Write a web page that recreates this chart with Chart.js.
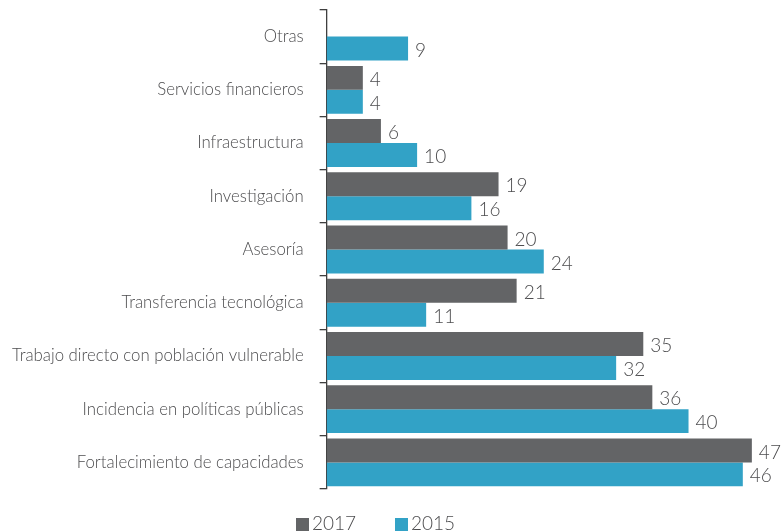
<!DOCTYPE html>
<html>
<head>
<meta charset="utf-8">
<script src="https://cdn.jsdelivr.net/npm/chart.js@4"></script>
<style>
  html, body { margin: 0; padding: 0; background: #fff; overflow: hidden; }
  #wrap { position: relative; width: 781px; height: 532px; }
  #legend { position: absolute; left: 296px; top: 512px; font: 300 19px Lato, sans-serif; color: #4d4d4f; white-space: nowrap; }
  #legend span.item { position: absolute; top: 0; line-height: 22px; }
  #legend i { display: inline-block; width: 13px; height: 13px; margin-right: 3px; vertical-align: -1px; }
</style>
</head>
<body>
<div id="wrap">
  <canvas id="chart" width="781" height="532"></canvas>
  <div id="legend"></div>
</div>
<script>
// Categorías (de arriba hacia abajo)
const categories = [
  'Otras',
  'Servicios financieros',
  'Infraestructura',
  'Investigación',
  'Asesoría',
  'Transferencia tecnológica',
  'Trabajo directo con población vulnerable',
  'Incidencia en políticas públicas',
  'Fortalecimiento de capacidades'
];

// Valores por año
const values2017 = [null, 4, 6, 19, 20, 21, 35, 36, 47];
const values2015 = [9, 4, 10, 16, 24, 11, 32, 40, 46];

const textColor = '#4d4d4f';

// Etiquetas de valor al final de cada barra
const valueLabels = {
  id: 'valueLabels',
  afterDatasetsDraw(chart) {
    const ctx = chart.ctx;
    ctx.save();
    ctx.fillStyle = textColor;
    ctx.font = '300 19px Lato, sans-serif';
    ctx.textAlign = 'left';
    ctx.textBaseline = 'middle';
    chart.data.datasets.forEach((ds, i) => {
      const meta = chart.getDatasetMeta(i);
      meta.data.forEach((bar, j) => {
        const v = ds.data[j];
        if (v === null || v === undefined) return;
        ctx.fillText(String(v), bar.x + 7, bar.y + 2);
      });
    });
    ctx.restore();
  }
};

const chart = new Chart(document.getElementById('chart').getContext('2d'), {
  type: 'bar',
  data: {
    labels: categories,
    datasets: [{
      label: '2017',
      data: values2017,
      backgroundColor: '#636466'
    }, {
      label: '2015',
      data: values2015,
      backgroundColor: '#32a2c6'
    }]
  },
  options: {
    indexAxis: 'y',
    responsive: false,
    animation: false,
    layout: { padding: { top: 10, right: 2, left: -4, bottom: 43 } },
    datasets: {
      bar: { categoryPercentage: 0.9, barPercentage: 1.0 }
    },
    scales: {
      x: {
        display: false,
        min: 0,
        max: 50
      },
      y: {
        afterFit(scale) {
          scale.paddingTop = 0;
          scale.paddingBottom = 0;
        },
        border: { display: true, color: '#3f3f3f', width: 1.3 },
        grid: {
          drawOnChartArea: false,
          drawTicks: true,
          tickLength: 7,
          color: '#3f3f3f',
          lineWidth: 1.3
        },
        ticks: {
          color: textColor,
          padding: 16,
          font: { family: 'Lato, sans-serif', size: 16.8, weight: '300' }
        }
      }
    },
    plugins: {
      legend: { display: false },
      tooltip: { enabled: false }
    }
  },
  plugins: [valueLabels]
});

// Leyenda
const legendEl = document.getElementById('legend');
const legendOffsets = [0, 99];
chart.data.datasets.forEach((ds, i) => {
  const item = document.createElement('span');
  item.className = 'item';
  item.style.left = legendOffsets[i] + 'px';
  item.innerHTML = '<i style="background:' + ds.backgroundColor + '"></i>' + ds.label;
  legendEl.appendChild(item);
});
</script>
</body>
</html>
